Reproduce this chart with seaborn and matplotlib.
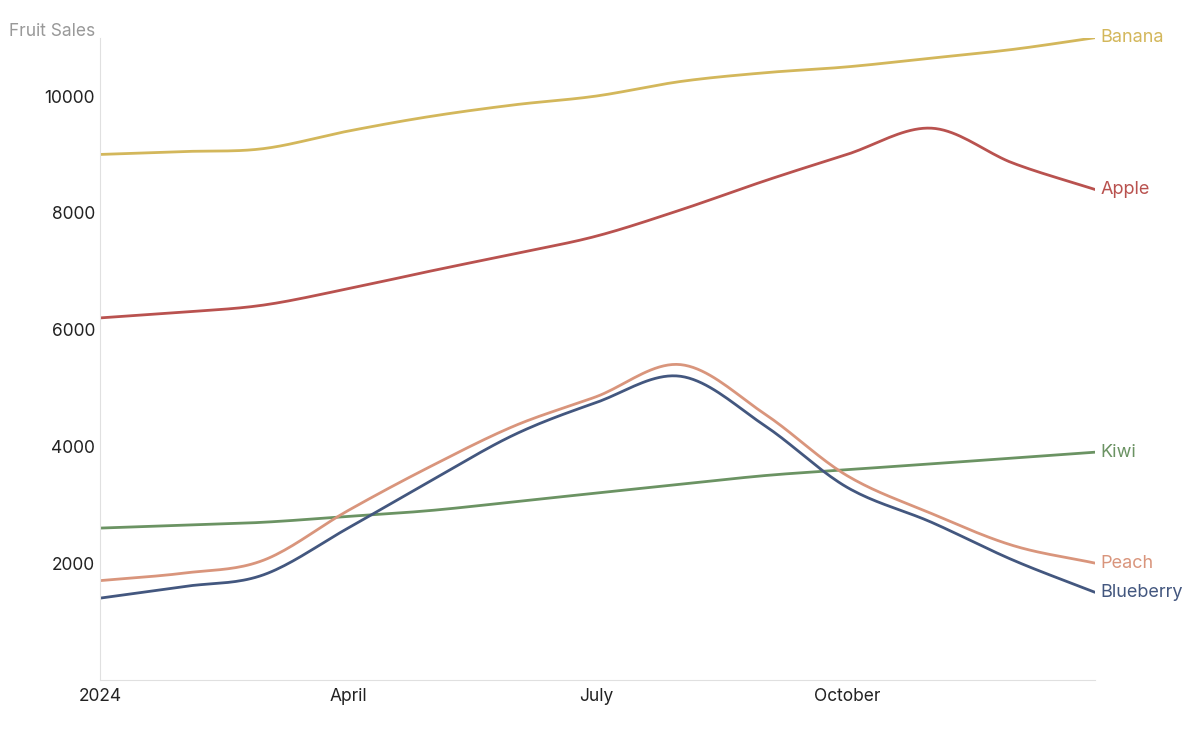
import numpy as np
import pandas as pd
import matplotlib
matplotlib.use('Agg')
import matplotlib.pyplot as plt
import matplotlib.dates as mdates
import seaborn as sns

# Data: month starts of 2024 plus year end
dates = pd.to_datetime(list(pd.date_range('2024-01-01', '2024-12-01', freq='MS')) + ['2024-12-31'])
banana = [9000, 9050, 9100, 9400, 9650, 9850, 10000, 10250, 10400, 10500, 10650, 10800, 11000]
apple = [6200, 6300, 6420, 6700, 7000, 7300, 7600, 8050, 8550, 9000, 9450, 8850, 8400]
peach = [1700, 1830, 2050, 2900, 3650, 4350, 4850, 5400, 4550, 3500, 2850, 2300, 2000]
blueberry = [1400, 1600, 1800, 2600, 3400, 4200, 4750, 5200, 4350, 3300, 2700, 2050, 1500]
kiwi = [2600, 2650, 2700, 2800, 2900, 3050, 3200, 3350, 3500, 3600, 3700, 3800, 3900]

series = {'Banana': banana, 'Apple': apple, 'Kiwi': kiwi, 'Peach': peach, 'Blueberry': blueberry}
colors = {'Banana': '#d3b75b', 'Apple': '#b9524f', 'Kiwi': '#6b9363',
          'Peach': '#d9957c', 'Blueberry': '#43577f'}


def smooth(x, y, n=20):
    # Catmull-Rom spline through the points, for drawing only
    x = np.asarray(x, float)
    y = np.asarray(y, float)
    px = np.concatenate([[2 * x[0] - x[1]], x, [2 * x[-1] - x[-2]]])
    py = np.concatenate([[2 * y[0] - y[1]], y, [2 * y[-1] - y[-2]]])
    xs, ys = [], []
    t = np.linspace(0, 1, n, endpoint=False)
    for i in range(1, len(px) - 2):
        for p, out in ((px, xs), (py, ys)):
            p0, p1, p2, p3 = p[i - 1], p[i], p[i + 1], p[i + 2]
            out.extend(0.5 * (2 * p1 + (-p0 + p2) * t + (2 * p0 - 5 * p1 + 4 * p2 - p3) * t ** 2
                              + (-p0 + 3 * p1 - 3 * p2 + p3) * t ** 3))
    xs.append(x[-1])
    ys.append(y[-1])
    return np.array(xs), np.array(ys)


sns.set_style('white')
plt.rcParams['font.family'] = ['Inter', 'DejaVu Sans']

fig = plt.figure(figsize=(12, 7.39), dpi=100)
ax = fig.add_axes([0.0833, 0.08, 0.8292, 0.869])

xnum = mdates.date2num(dates)
for name, vals in series.items():
    sx, sy = smooth(xnum, vals)
    df = pd.DataFrame({'date': mdates.num2date(sx), 'sales': sy})
    sns.lineplot(data=df, x='date', y='sales', ax=ax, color=colors[name], linewidth=2, sort=False)
    ax.text(dates[-1] + pd.Timedelta(days=2), vals[-1], name, color=colors[name],
            fontsize=13, va='center', ha='left')

ax.set_xlim(dates[0], dates[-1])
ax.set_ylim(0, 11000)
ax.set_yticks([2000, 4000, 6000, 8000, 10000])
ax.set_xticks(pd.to_datetime(['2024-01-01', '2024-04-01', '2024-07-01', '2024-10-01']))
ax.set_xticklabels(['2024', 'April', 'July', 'October'])
ax.tick_params(axis='both', labelsize=12.5, length=0, colors='#222222')
ax.tick_params(axis='x', pad=6)
ax.set_xlabel('')
ax.set_ylabel('')
for s in ['top', 'right']:
    ax.spines[s].set_visible(False)
for s in ['left', 'bottom']:
    ax.spines[s].set_color('#e0e0e0')
fig.text(0.0075, 0.958, 'Fruit Sales', color='#999999', fontsize=12.5, ha='left', va='center')

fig.savefig('out.png', dpi=100)
